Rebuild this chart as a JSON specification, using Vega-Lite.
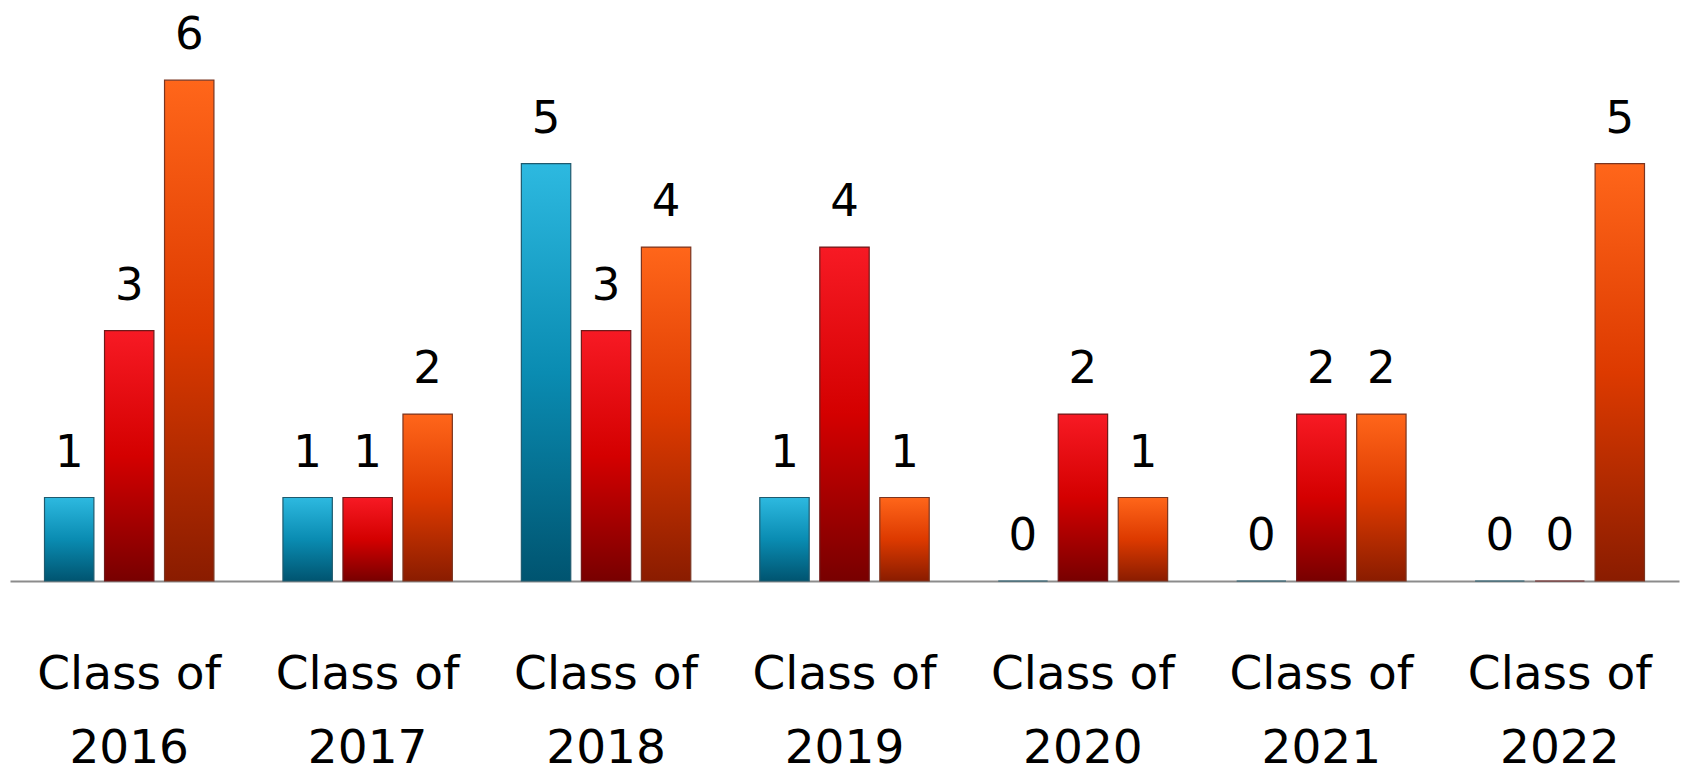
{
  "$schema": "https://vega.github.io/schema/vega-lite/v6.json",
  "width": 1669,
  "height": 581,
  "autosize": {"type": "none"},
  "padding": {"left": 10, "top": 0, "right": 4, "bottom": 188},
  "background": "white",
  "config": {"view": {"stroke": null}},
  "data": {
    "values": [
      {"cls": "2016", "series": "A", "value": 1},
      {"cls": "2016", "series": "B", "value": 3},
      {"cls": "2016", "series": "C", "value": 6},
      {"cls": "2017", "series": "A", "value": 1},
      {"cls": "2017", "series": "B", "value": 1},
      {"cls": "2017", "series": "C", "value": 2},
      {"cls": "2018", "series": "A", "value": 5},
      {"cls": "2018", "series": "B", "value": 3},
      {"cls": "2018", "series": "C", "value": 4},
      {"cls": "2019", "series": "A", "value": 1},
      {"cls": "2019", "series": "B", "value": 4},
      {"cls": "2019", "series": "C", "value": 1},
      {"cls": "2020", "series": "A", "value": 0},
      {"cls": "2020", "series": "B", "value": 2},
      {"cls": "2020", "series": "C", "value": 1},
      {"cls": "2021", "series": "A", "value": 0},
      {"cls": "2021", "series": "B", "value": 2},
      {"cls": "2021", "series": "C", "value": 2},
      {"cls": "2022", "series": "A", "value": 0},
      {"cls": "2022", "series": "B", "value": 0},
      {"cls": "2022", "series": "C", "value": 5}
    ]
  },
  "encoding": {
    "x": {
      "field": "cls",
      "type": "nominal",
      "sort": null,
      "scale": {"paddingInner": 0, "paddingOuter": 0},
      "axis": {
        "title": null,
        "ticks": false,
        "domain": true,
        "domainColor": "#8c8c8c",
        "domainWidth": 2,
        "labelAngle": 0,
        "labelFont": "DejaVu Sans",
        "labelFontSize": 47,
        "labelColor": "#000000",
        "labelLimit": 0,
        "labelLineHeight": 74,
        "labelBaseline": "alphabetic",
        "labelPadding": 107,
        "labelExpr": "['Class of', datum.label]"
      }
    },
    "xOffset": {
      "field": "series",
      "type": "nominal",
      "sort": ["A", "B", "C"],
      "scale": {"paddingInner": 0.177, "paddingOuter": 0.575}
    },
    "y": {
      "field": "value",
      "type": "quantitative",
      "scale": {"domain": [0, 6.96], "nice": false},
      "axis": null
    }
  },
  "layer": [
    {
      "transform": [{"filter": "datum.series === 'A'"}],
      "mark": {
        "type": "bar",
        "stroke": "#1f5a6e",
        "strokeWidth": 1.2,
        "color": {
          "gradient": "linear", "x1": 0, "y1": 0, "x2": 0, "y2": 1,
          "stops": [
            {"offset": 0, "color": "#2db9e0"},
            {"offset": 0.5, "color": "#0a8cb2"},
            {"offset": 1, "color": "#005470"}
          ]
        }
      }
    },
    {
      "transform": [{"filter": "datum.series === 'B'"}],
      "mark": {
        "type": "bar",
        "stroke": "#6e1a1a",
        "strokeWidth": 1.2,
        "color": {
          "gradient": "linear", "x1": 0, "y1": 0, "x2": 0, "y2": 1,
          "stops": [
            {"offset": 0, "color": "#f71a24"},
            {"offset": 0.5, "color": "#d40000"},
            {"offset": 1, "color": "#780000"}
          ]
        }
      }
    },
    {
      "transform": [{"filter": "datum.series === 'C'"}],
      "mark": {
        "type": "bar",
        "stroke": "#7a3520",
        "strokeWidth": 1.2,
        "color": {
          "gradient": "linear", "x1": 0, "y1": 0, "x2": 0, "y2": 1,
          "stops": [
            {"offset": 0, "color": "#ff661a"},
            {"offset": 0.5, "color": "#dd3a00"},
            {"offset": 1, "color": "#8a1c00"}
          ]
        }
      }
    },
    {
      "mark": {
        "type": "text",
        "font": "DejaVu Sans",
        "fontSize": 45,
        "color": "#000000",
        "baseline": "alphabetic",
        "dy": -31
      },
      "encoding": {"text": {"field": "value", "type": "quantitative"}}
    }
  ]
}
